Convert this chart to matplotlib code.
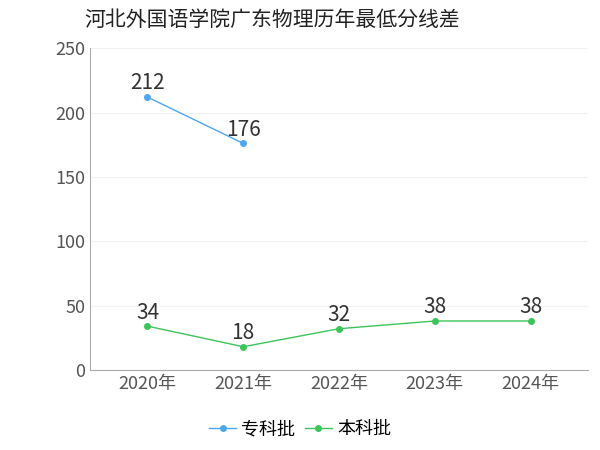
import matplotlib.pyplot as plt
from matplotlib import font_manager

cjk = [f.name for f in font_manager.fontManager.ttflist if 'CJK' in f.name]
plt.rcParams['font.family'] = 'sans-serif'
plt.rcParams['font.sans-serif'] = ['Noto Sans CJK SC', 'Noto Sans CJK JP'] + cjk + ['DejaVu Sans']

years = ['2020年', '2021年', '2022年', '2023年', '2024年']
zhuanke = [212, 176]
benke = [34, 18, 32, 38, 38]

fig = plt.figure(figsize=(6, 4.5), dpi=100)
ax = fig.add_axes([0.15, 0.178, 0.83, 0.715])
x = range(len(years))

ax.plot(x[:2], zhuanke, color='#4da6f0', marker='o', markersize=4, lw=1, label='专科批')
ax.plot(x, benke, color='#3cc45a', marker='o', markersize=4, lw=1, label='本科批')
for i, v in enumerate(zhuanke):
    ax.text(i, v + 2, str(v), ha='center', va='bottom', fontsize=15, color='#333333')
for i, v in enumerate(benke):
    ax.text(i, v + 2, str(v), ha='center', va='bottom', fontsize=15, color='#333333')

ax.set_xlim(-0.6, 4.6)
ax.set_ylim(0, 250)
ax.set_yticks(range(0, 251, 50))
ax.set_xticks(list(x))
ax.set_xticklabels(years)
ax.tick_params(labelsize=13, colors='#555555', length=0)
ax.grid(axis='y', color='#f2f2f2')
for s in ['top', 'right']:
    ax.spines[s].set_visible(False)
ax.spines['left'].set_color('#aaaaaa')
ax.spines['bottom'].set_color('#aaaaaa')

fig.text(0.14, 0.955, '河北外国语学院广东物理历年最低分线差', fontsize=15, va='center', color='#222222')
fig.legend(loc='lower center', ncol=2, frameon=False, fontsize=13,
           bbox_to_anchor=(0.5, -0.01), handlelength=1.5, columnspacing=0.5, handletextpad=0.3)
fig.savefig('out.png')
